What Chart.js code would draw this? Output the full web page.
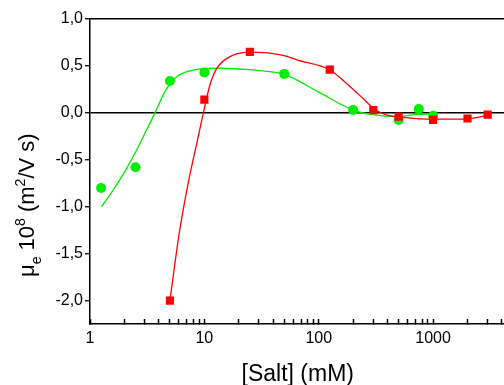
<!DOCTYPE html>
<html>
<head>
<meta charset="utf-8">
<script src="https://cdn.jsdelivr.net/npm/chart.js@4.4.0/dist/chart.umd.min.js"></script>
<style>
html, body { margin: 0; padding: 0; background: #fff; overflow: hidden; }
#wrap { width: 504px; height: 385px; overflow: hidden; }
</style>
</head>
<body>
<div id="wrap"><canvas id="chart" width="512" height="385"></canvas></div>
<script>
// measured mobilities, [Salt] in mM
const greenSalt = [1.25, 2.5, 5, 10, 50, 200, 500, 750, 1000];
const greenMob = [-0.80, -0.58, 0.34, 0.43, 0.415, 0.03, -0.075, 0.04, -0.03];
const redSalt = [5, 10, 25, 125, 300, 500, 1000, 2000, 3000];
const redMob = [-2.0, 0.14, 0.65, 0.46, 0.03, -0.04, -0.075, -0.06, -0.02];

// fitted curves
const greenFitSalt = [1.26, 1.6, 2.05, 2.6, 3.1, 3.7, 4.4, 5.0, 5.6, 6.3, 7.6, 9.2, 13.5, 26, 50, 100, 200, 300, 470, 700, 1000];
const greenFitMob = [-1.0, -0.82, -0.61, -0.38, -0.19, 0.0, 0.20, 0.31, 0.375, 0.415, 0.45, 0.468, 0.475, 0.457, 0.41, 0.22, 0.03, -0.02, -0.04, -0.02, -0.01];
const redFitSalt = [5, 6, 7.3, 8.6, 9.8, 11.2, 12.5, 15.5, 24.5, 50, 64.5, 125, 174, 243, 300, 385, 573, 1000, 1770, 3000];
const redFitMob = [-2.0, -1.30, -0.72, -0.32, 0.0, 0.30, 0.45, 0.575, 0.646, 0.61, 0.564, 0.457, 0.316, 0.156, 0.05, -0.02, -0.05, -0.067, -0.067, -0.03];

const yTicks = [1.0, 0.5, 0.0, -0.5, -1.0, -1.5, -2.0];
const xLabels = [1, 10, 100, 1000];

const xMax = 4300;
const xTickValues = [];
xLabels.forEach(d => {
    for (let k = 1; k <= 9; k++) {
        if (d * k <= xMax) xTickValues.push(d * k);
    }
});

const pts = (xs, ys) => xs.map((x, i) => ({ x: x, y: ys[i] }));

Chart.defaults.font.family = '"Liberation Sans", Arial, sans-serif';
Chart.defaults.color = '#000';

// y title with subscript / superscripts
const yTitlePlugin = {
    id: 'yTitle',
    afterDraw(chart) {
        const ctx = chart.ctx;
        const area = chart.chartArea;
        const parts = [['\u03bc', 0, 22], ['e', 7, 14], [' 10', 0, 22], ['8', -9, 14],
                       [' (m', 0, 22], ['2', -9, 14], ['/V s)', 0, 22]];
        ctx.save();
        ctx.translate(33.5, area.bottom - 47);
        ctx.rotate(-Math.PI / 2);
        ctx.fillStyle = '#000';
        ctx.textBaseline = 'alphabetic';
        let x = 0;
        parts.forEach(([t, dy, size]) => {
            ctx.font = size + 'px "Liberation Sans", Arial, sans-serif';
            ctx.fillText(t, x, dy);
            x += ctx.measureText(t).width;
        });
        ctx.restore();
    }
};

new Chart(document.getElementById('chart'), {
    type: 'scatter',
    data: {
        datasets: [
            {
                data: pts(redSalt, redMob),
                pointStyle: 'rect',
                pointRadius: 5.8,
                backgroundColor: '#ff0000',
                borderWidth: 0
            },
            {
                data: pts(greenSalt, greenMob),
                pointStyle: 'circle',
                pointRadius: 5,
                backgroundColor: '#00ee00',
                borderWidth: 0
            },
            {
                data: pts(redFitSalt, redFitMob),
                showLine: true,
                pointRadius: 0,
                borderColor: '#ff0000',
                borderWidth: 1.3,
                cubicInterpolationMode: 'monotone'
            },
            {
                data: pts(greenFitSalt, greenFitMob),
                showLine: true,
                pointRadius: 0,
                borderColor: '#00ee00',
                borderWidth: 1.3,
                cubicInterpolationMode: 'monotone'
            }
        ]
    },
    options: {
        responsive: false,
        animation: false,
        events: [],
        layout: { padding: { left: 0, top: 19, right: 1, bottom: 0 } },
        plugins: { legend: { display: false }, tooltip: { enabled: false } },
        scales: {
            x: {
                type: 'logarithmic',
                position: 'bottom',
                min: 1,
                max: xMax,
                afterBuildTicks: s => { s.ticks = xTickValues.map(v => ({ value: v })); },
                afterFit: s => { s.height = 61; },
                ticks: {
                    autoSkip: false,
                    maxRotation: 0,
                    padding: 10,
                    font: { size: 16 },
                    callback: v => xLabels.includes(v) ? String(v) : ''
                },
                grid: { drawOnChartArea: false, tickLength: -5, tickColor: '#000', tickWidth: 1.5 },
                border: { color: '#000', width: 1.5 },
                title: {
                    display: true,
                    text: '[Salt] (mM)',
                    font: { size: 23, lineHeight: 0.9 },
                    padding: 0
                }
            },
            x2: {
                type: 'logarithmic',
                position: 'top',
                min: 1,
                max: xMax,
                ticks: { display: false },
                grid: { display: false },
                border: { color: '#000', width: 1.5 },
                afterFit: s => { s.height = 0; }
            },
            y: {
                min: -2.25,
                max: 1.0,
                afterBuildTicks: s => { s.ticks = yTicks.map(v => ({ value: v })); },
                afterFit: s => { s.width = 90; },
                ticks: {
                    padding: 2,
                    font: { size: 16 },
                    callback: v => v.toFixed(1).replace('.', ',')
                },
                grid: {
                    color: c => (c.tick && c.tick.value === 0) ? '#000' : 'rgba(0,0,0,0)',
                    lineWidth: 1.5,
                    tickColor: '#000',
                    tickLength: 5,
                    tickWidth: 1.3
                },
                border: { color: '#000', width: 1.5 }
            }
        }
    },
    plugins: [yTitlePlugin]
});
</script>
</body>
</html>
